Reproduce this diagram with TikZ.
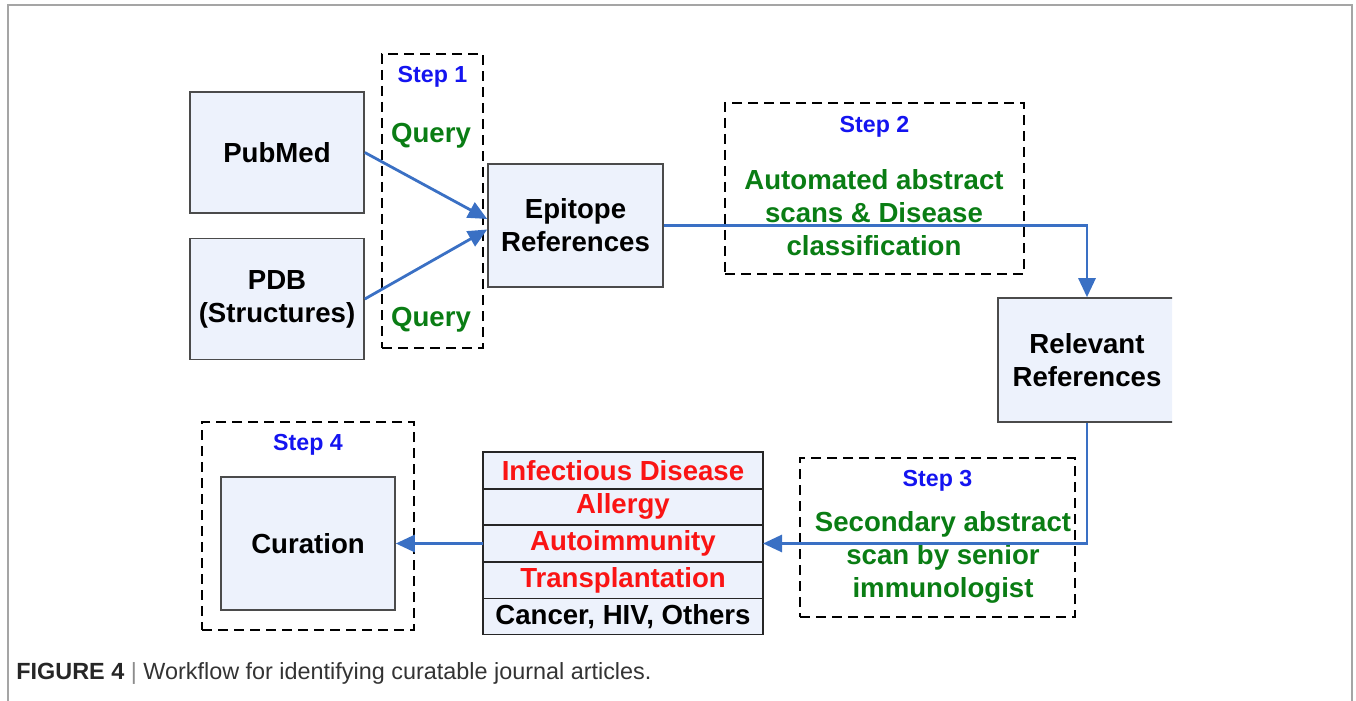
\documentclass[tikz,border=0pt]{standalone}
\usepackage{fontspec}
\setmainfont{Liberation Sans}
\usetikzlibrary{positioning,arrows.meta}

\definecolor{boxfill}{RGB}{237,242,252}
\definecolor{boxline}{RGB}{75,75,75}
\definecolor{flowblue}{RGB}{58,112,196}
\definecolor{stepblue}{RGB}{20,20,240}
\definecolor{stepgreen}{RGB}{10,125,20}
\definecolor{disred}{RGB}{250,20,20}
\definecolor{framegray}{RGB}{165,165,165}

\newcommand\boxfont{\fontsize{13.8}{16.5}\selectfont\bfseries}
\newcommand\stepfont{\fontsize{11.6}{14}\selectfont\bfseries}

\tikzset{
  srcbox/.style={draw=boxline, line width=0.8pt, fill=boxfill, align=center,
    minimum width=87pt, minimum height=61pt, font=\boxfont},
  stepframe/.style={draw=black, line width=1pt, dash pattern=on 5pt off 3pt},
  steplabel/.style={inner sep=0pt, text=stepblue, font=\stepfont},
  tasklabel/.style={inner sep=0pt, text=stepgreen, align=center, font=\boxfont},
  diseasecell/.style={draw=black!85, line width=0.9pt, fill=boxfill, outer sep=0pt,
    minimum width=140pt, minimum height=18.3pt, inner sep=0pt, font=\boxfont},
  flow/.style={draw=flowblue, line width=1.4pt, -{Triangle[length=9.5pt,width=8.5pt]}}
}

\begin{document}
\begin{tikzpicture}[x=0.5pt, y=-0.5pt]
\useasboundingbox (0,0) rectangle (1356,701);

% page frame and caption
\draw[framegray, line width=0.8pt] (8,701) -- (8,5) -- (1352,5) -- (1352,701);
\node[anchor=west, inner sep=0pt] (caption) at (16,673)
  {\fontsize{11.7}{13}\selectfont\textcolor{black!85}{\textbf{FIGURE 4}}
   \textcolor{black!45}{|} \textcolor{black!80}{Workflow for identifying curatable journal articles.}};

\begin{scope}
\clip (0,0) rectangle (1172,634);

% step 1
\node [stepframe, minimum width=50.5pt, minimum height=147pt] (step1) at (432.5,201) {};
\node [steplabel, below=6.5pt of step1.north] (step1lbl) {Step 1};
\node [tasklabel] (query1) at (431,136) {Query};
\node [tasklabel] (query2) at (431,320) {Query};

\node [srcbox, minimum height=60.5pt] (pubmed) at (277,152.5) {PubMed};
\node [srcbox, minimum height=60.5pt] (pdb) at (277,299) {PDB\\(Structures)};
\node [srcbox, minimum width=87.5pt, minimum height=61.5pt] (epitope) at (575.5,225.5) {Epitope\\References};

% step 2
\node [stepframe, minimum width=149.5pt, minimum height=85.5pt] (step2) at (874.5,188.5) {};
\node [steplabel, below=7pt of step2.north] (step2lbl) {Step 2};
\node [tasklabel] (step2task) at (874,213) {Automated abstract\\scans \& Disease\\classification};

\node [srcbox, minimum width=89pt, minimum height=62pt] (relevant) at (1087,360) {Relevant\\References};

% step 3
\node [stepframe, minimum width=137.5pt, minimum height=79.5pt] (step3) at (937.5,537.5) {};
\node [steplabel, below=6.5pt of step3.north] (step3lbl) {Step 3};
\node [tasklabel] (step3task) at (943,557) {Secondary abstract\\scan by senior\\immunologist};

% disease classes
\node [diseasecell, text=disred] (infect) at (623,470.3) {Infectious Disease};
\node [diseasecell, text=disred, below=0pt of infect] (allergy) {Allergy};
\node [diseasecell, text=disred, below=0pt of allergy] (autoimm) {Autoimmunity};
\node [diseasecell, text=disred, below=0pt of autoimm] (transpl) {Transplantation};
\node [diseasecell, text=black, below=0pt of transpl] (others) {Cancer, HIV, Others};

% step 4
\node [stepframe, minimum width=106pt, minimum height=104pt] (step4) at (308,526) {};
\node [steplabel, below=6.5pt of step4.north] (step4lbl) {Step 4};
\node [srcbox, minimum height=66.5pt] (curation) at (308,543.5) {Curation};

\draw[flow] (pubmed.east) -- ([yshift=3.25pt]epitope.west);
\draw[flow] (pdb.east) -- ([yshift=-2pt]epitope.west);
\draw[flow] (epitope.east) -| (relevant.north);
\draw[flow] (relevant.south) |- (autoimm.east);
\draw[flow] (autoimm.west) -- (curation.east);
\end{scope}
\end{tikzpicture}
\end{document}
